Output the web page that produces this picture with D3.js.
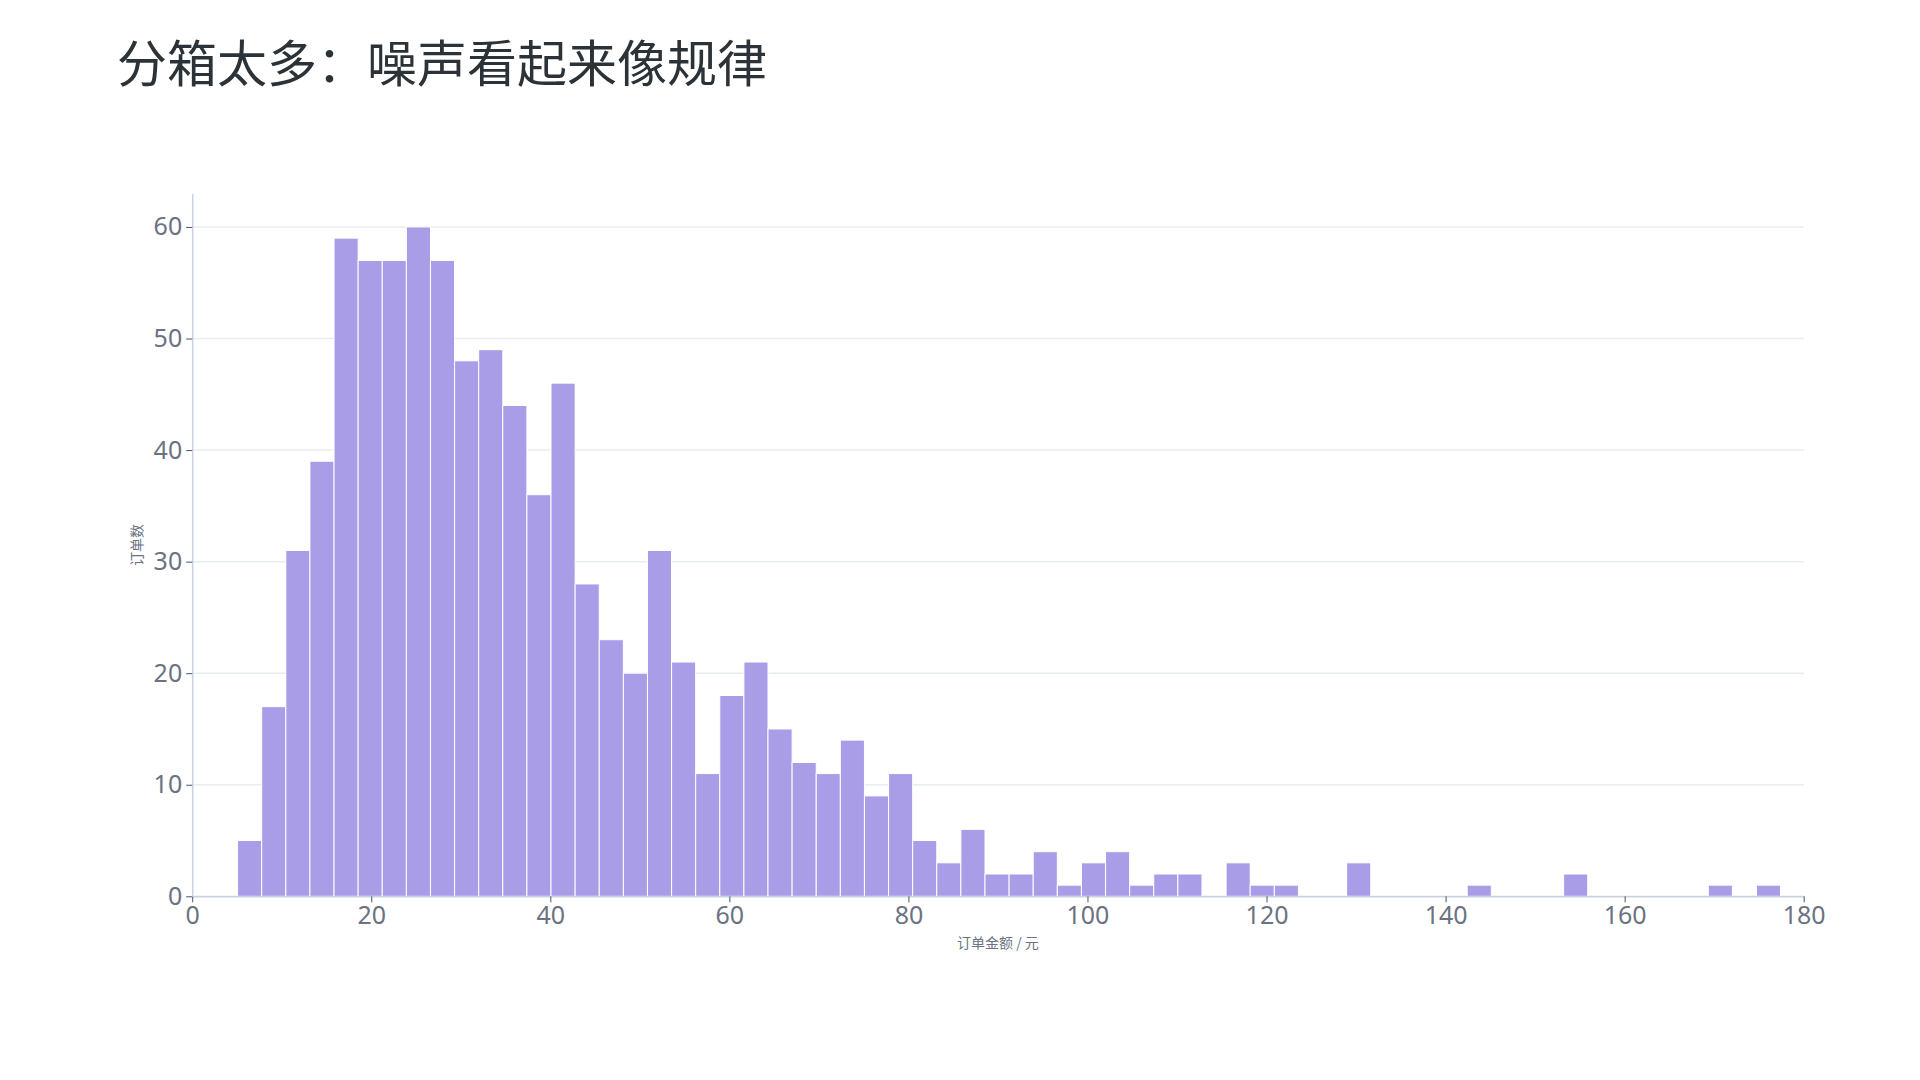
<!DOCTYPE html>
<html>
<head>
<meta charset="utf-8">
<script src="https://cdn.jsdelivr.net/npm/d3@7"></script>
<style>
  body { margin: 0; background: #fff; }
  svg { display: block; }
</style>
</head>
<body>
<script>
// histogram counts, one per bin
const binStart = 5.07;
const binWidth = 2.693;
const counts = [
    5, 17, 31, 39, 59, 57, 57, 60, 57, 48,
    49, 44, 36, 46, 28, 23, 20, 31, 21, 11,
    18, 21, 15, 12, 11, 14, 9, 11, 5, 3,
    6, 2, 2, 4, 1, 3, 4, 1, 2, 2,
    0, 3, 1, 1, 0, 0, 3, 0, 0, 0,
    0, 1, 0, 0, 0, 2, 0, 0, 0, 0,
    0, 1, 0, 1
];
const xTicks = [0, 20, 40, 60, 80, 100, 120, 140, 160, 180];
const yTicks = [0, 10, 20, 30, 40, 50, 60];

const title = "分箱太多：噪声看起来像规律";
const xLabel = "订单金额 / 元";
const yLabel = "订单数";

const width = 1920, height = 1080;
const margin = { top: 193.5, right: 116.3, bottom: 183.7, left: 192.2 };
const chartWidth = width - margin.left - margin.right;
const chartHeight = height - margin.top - margin.bottom;

const bins = counts.map((c, i) => ({ x0: binStart + i * binWidth, x1: binStart + (i + 1) * binWidth, count: c }));

const svg = d3.select("body").append("svg")
    .attr("width", width)
    .attr("height", height)
    .style("font-family", "'Noto Sans', 'Noto Sans CJK SC', sans-serif");

// Title
svg.append("text")
    .attr("x", 117)
    .attr("y", 82)
    .attr("fill", "#2b3238")
    .attr("font-size", "50px")
    .attr("font-family", "'Noto Sans CJK SC', sans-serif")
    .text(title);

const xScale = d3.scaleLinear().domain([0, 180]).range([0, chartWidth]);
const yScale = d3.scaleLinear().domain([0, 63]).range([chartHeight, 0]);

const g = svg.append("g")
    .attr("transform", `translate(${margin.left},${margin.top})`);

// gridlines
g.append("g")
    .selectAll("line")
    .data(yTicks)
    .join("line")
    .attr("x1", 0)
    .attr("x2", chartWidth)
    .attr("y1", d => yScale(d))
    .attr("y2", d => yScale(d))
    .attr("stroke", "#e8edf3")
    .attr("stroke-width", 1.5);

// bars
g.append("g")
    .selectAll("rect")
    .data(bins.filter(d => d.count > 0))
    .join("rect")
    .attr("x", d => xScale(d.x0))
    .attr("width", d => xScale(d.x1) - xScale(d.x0))
    .attr("y", d => yScale(d.count))
    .attr("height", d => yScale(0) - yScale(d.count))
    .attr("fill", "#aa9de8")
    .attr("stroke", "#ffffff")
    .attr("stroke-width", 1);

// axes
const xAxis = d3.axisBottom(xScale).tickValues(xTicks).tickSize(6).tickPadding(4).tickSizeOuter(0);
const yAxis = d3.axisLeft(yScale).tickValues(yTicks).tickSize(6).tickPadding(4).tickSizeOuter(0);

const gx = g.append("g")
    .attr("transform", `translate(0,${chartHeight})`)
    .call(xAxis);
const gy = g.append("g").call(yAxis);

[gx, gy].forEach(ax => {
    ax.select(".domain").attr("stroke", "#c9d3df").attr("stroke-width", 1.5);
    ax.selectAll(".tick line").attr("stroke", "#4b5563");
    ax.selectAll(".tick text")
        .attr("fill", "#6b7282")
        .attr("font-size", "25px")
        .attr("font-family", "'Noto Sans', sans-serif");
});

// axis labels
g.append("text")
    .attr("x", chartWidth / 2)
    .attr("y", chartHeight + 52)
    .attr("text-anchor", "middle")
    .attr("fill", "#6b7282")
    .attr("font-size", "14px")
    .attr("font-family", "'Noto Sans CJK SC', sans-serif")
    .text(xLabel);

g.append("text")
    .attr("transform", "rotate(-90)")
    .attr("x", -chartHeight / 2)
    .attr("y", -50)
    .attr("text-anchor", "middle")
    .attr("fill", "#6b7282")
    .attr("font-size", "14px")
    .attr("font-family", "'Noto Sans CJK SC', sans-serif")
    .text(yLabel);
</script>
</body>
</html>
